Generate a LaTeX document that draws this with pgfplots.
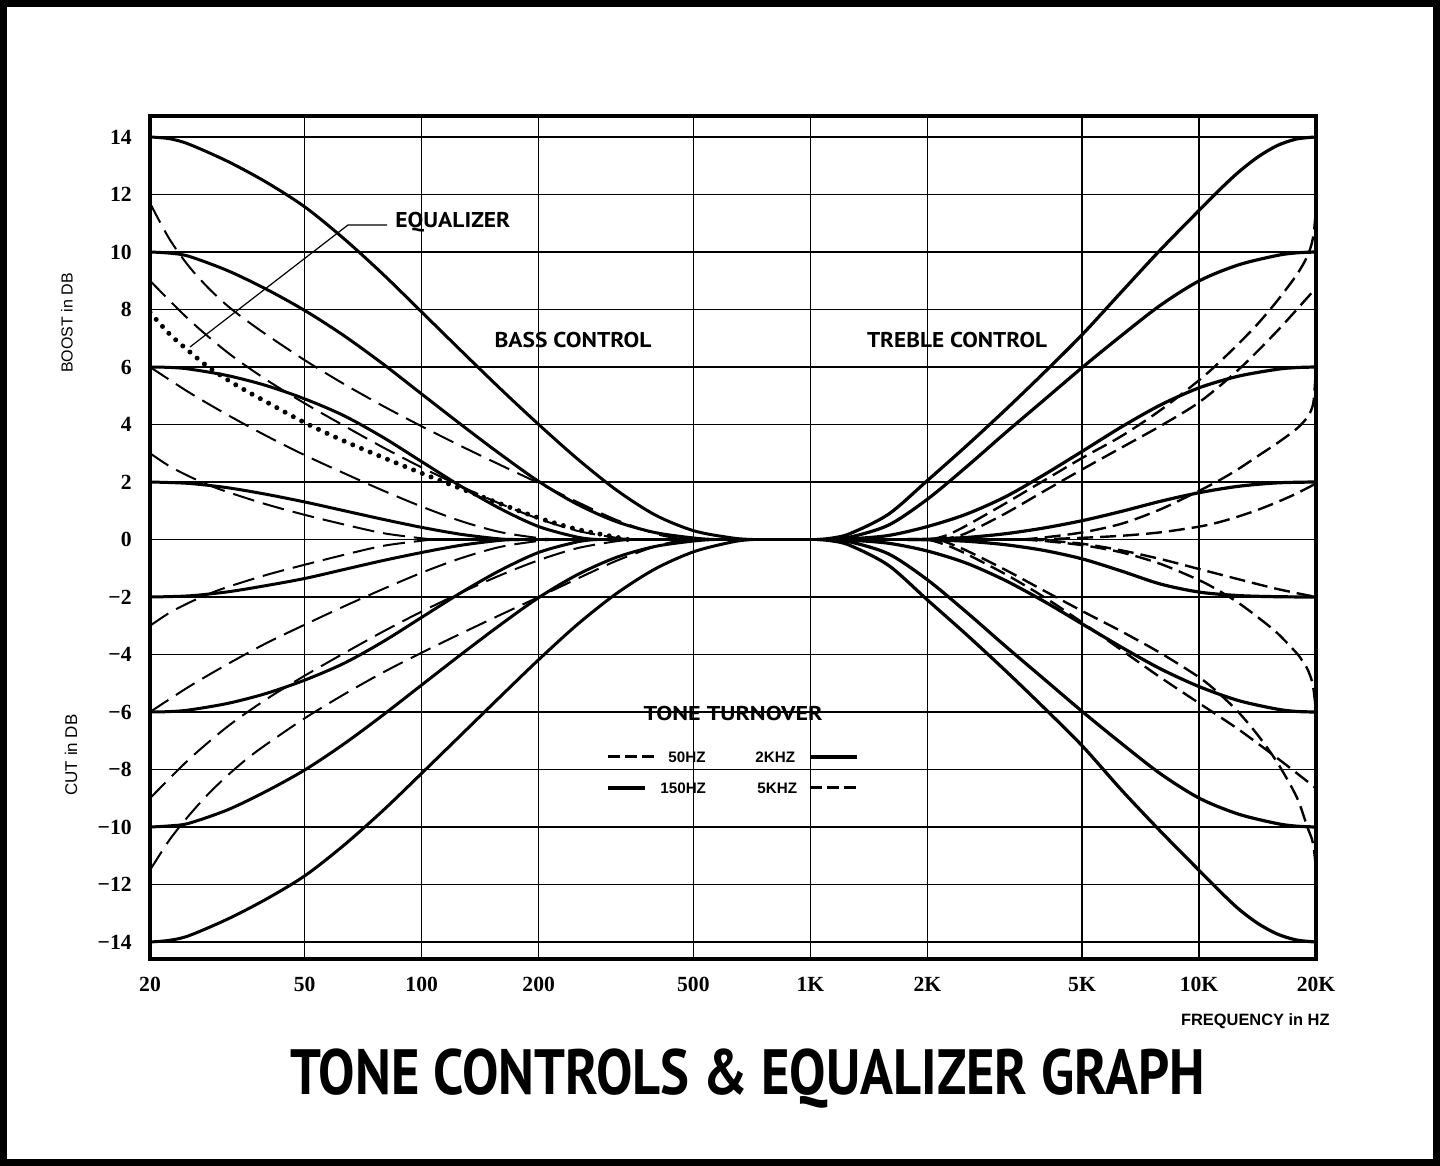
\documentclass[border=0pt]{standalone}
\usepackage{fontspec}
\setmainfont{Liberation Serif}
\newfontfamily\optima{PT Sans}
\newfontfamily\helv{Liberation Sans}
\usepackage{graphicx}
\usepackage{pgfplots}
\pgfplotsset{compat=1.18}
\pgfplotsset{
 sB/.style={black, line width=1.5pt, smooth, tension=0.5, no markers},
 dB/.style={black, line width=1pt, dash pattern=on 11pt off 4.5pt, smooth, tension=0.5, no markers},
 sT/.style={black, line width=1.6pt, smooth, tension=0.5, no markers},
 dT/.style={black, line width=1.2pt, dash pattern=on 8pt off 3.5pt, smooth, tension=0.5, no markers},
 eq/.style={black, line width=2.5pt, line cap=round, dash pattern=on 0pt off 4.7pt, smooth, tension=0.5, no markers},
}
\begin{document}
\begin{tikzpicture}
\useasboundingbox (0,0) rectangle (720pt,583pt);
\fill[white] (0,0) rectangle (720pt,583pt);
\draw[line width=3.5pt] (1.75pt,1.75pt) rectangle (718.25pt,581.25pt);
\begin{axis}[
 at={(75pt,103.5pt)}, anchor=south west, scale only axis,
 width=583pt, height=421.5pt,
 xmode=log, xmin=20, xmax=20000, ymin=-14.59, ymax=14.73,
 xtick={20,50,100,200,500,1000,2000,5000,10000,20000},
 xticklabels={20,50,100,200,500,1K,2K,5K,10K,20K},
 ytick={-14,-12,-10,-8,-6,-4,-2,0,2,4,6,8,10,12,14},
 yticklabels={−14,−12,−10,−8,−6,−4,−2,0,2,4,6,8,10,12,14},
 minor xtick={}, major tick length=0pt, minor tick length=0pt,
 grid=major, major grid style={black, line width=0.8pt},
 axis line style={black, line width=2pt},
 xticklabel style={font=\bfseries\fontsize{10.8}{12}\selectfont, inner sep=0pt, anchor=north, yshift=-9pt},
 yticklabel style={font=\bfseries\fontsize{10.8}{12}\selectfont, inner sep=0pt, anchor=east, xshift=-9pt},
]
% ---- bass, 150 Hz turnover (solid)
\addplot[sB] coordinates {(20,14) (22.44,13.94) (25.18,13.75) (31.70,13.15) (39.91,12.42) (50.24,11.55) (63.25,10.45) (79.62,9.22) (100.2,7.9) (126.2,6.57) (158.9,5.26) (200,4.0) (251.8,2.8) (317,1.72) (399.1,0.85) (502.4,0.3) (632.5,0.05) (709.6,0)};
\addplot[sB] coordinates {(20,-14) (22.44,-13.94) (25.18,-13.78) (31.70,-13.2) (39.91,-12.5) (50.24,-11.68) (63.25,-10.62) (79.62,-9.42) (100.2,-8.12) (126.2,-6.8) (158.9,-5.48) (200,-4.18) (251.8,-2.95) (317,-1.88) (399.1,-1.02) (502.4,-0.42) (632.5,-0.08) (709.6,0)};
\addplot[sB] coordinates {(20,10) (22.44,9.96) (25.18,9.85) (31.70,9.35) (39.91,8.7) (50.24,7.95) (63.25,7.08) (79.62,6.1) (100.2,5.05) (126.2,4.0) (158.9,2.98) (200,2.02) (251.8,1.22) (317,0.62) (399.1,0.24) (502.4,0.05) (563.7,0)};
\addplot[sB] coordinates {(20,-10) (22.44,-9.96) (25.18,-9.87) (31.70,-9.4) (39.91,-8.75) (50.24,-8.0) (63.25,-7.1) (79.62,-6.1) (100.2,-5.05) (126.2,-4.0) (158.9,-2.98) (200,-2.02) (251.8,-1.22) (317,-0.62) (399.1,-0.24) (502.4,-0.05) (563.7,0)};
\addplot[sB] coordinates {(20,6) (22.44,5.985) (25.18,5.93) (31.70,5.7) (39.91,5.35) (50.24,4.88) (63.25,4.3) (79.62,3.55) (100.2,2.7) (126.2,1.85) (158.9,1.08) (200,0.45) (251.8,0.08) (282.5,0)};
\addplot[sB] coordinates {(20,-6) (22.44,-5.985) (25.18,-5.93) (31.70,-5.7) (39.91,-5.35) (50.24,-4.88) (63.25,-4.3) (79.62,-3.55) (100.2,-2.7) (126.2,-1.85) (158.9,-1.08) (200,-0.45) (251.8,-0.08) (282.5,0)};
\addplot[sB] coordinates {(20,2) (25.18,1.95) (31.70,1.8) (39.91,1.57) (50.24,1.3) (63.25,1.0) (79.62,0.7) (100.2,0.42) (126.2,0.18) (158.9,0.02) (178.3,0)};
\addplot[sB] coordinates {(20,-2) (25.18,-1.96) (31.70,-1.82) (39.91,-1.6) (50.24,-1.35) (63.25,-1.04) (79.62,-0.73) (100.2,-0.45) (126.2,-0.2) (158.9,-0.03) (178.3,0)};
% ---- bass, 50 Hz turnover (dashed)
\addplot[dB] coordinates {(20,11.7) (22.44,10.45) (25.18,9.5) (28.25,8.75) (31.70,8.12) (35.57,7.6) (39.91,7.12) (50.24,6.22) (63.25,5.4) (79.62,4.64) (100.2,3.93) (126.2,3.25) (158.9,2.6) (200,1.96) (251.8,1.3) (317,0.68) (399.1,0.2) (463,0.02) (480,0)};
\addplot[dB] coordinates {(20,-11.5) (22.44,-10.45) (25.18,-9.6) (28.25,-8.85) (31.70,-8.2) (35.57,-7.62) (39.91,-7.12) (50.24,-6.2) (63.25,-5.38) (79.62,-4.62) (100.2,-3.93) (126.2,-3.27) (158.9,-2.63) (200,-2.0) (251.8,-1.36) (317,-0.74) (399.1,-0.24) (463,-0.03) (480,0)};
\addplot[dB] coordinates {(20,9.0) (25.18,7.65) (31.70,6.5) (39.91,5.55) (50.24,4.72) (63.25,3.95) (79.62,3.2) (100.2,2.5) (126.2,1.85) (158.9,1.25) (200,0.72) (251.8,0.3) (317,0.06) (355.7,0)};
\addplot[dB] coordinates {(20,-9.0) (25.18,-7.65) (31.70,-6.5) (39.91,-5.55) (50.24,-4.72) (63.25,-3.95) (79.62,-3.2) (100.2,-2.5) (126.2,-1.85) (158.9,-1.25) (200,-0.72) (251.8,-0.3) (317,-0.06) (355.7,0)};
\addplot[dB] coordinates {(20,6.0) (25.18,5.12) (31.70,4.33) (39.91,3.6) (50.24,2.92) (63.25,2.3) (79.62,1.7) (100.2,1.14) (126.2,0.64) (158.9,0.26) (200,0.05) (224.4,0)};
\addplot[dB] coordinates {(20,-6.0) (25.18,-5.12) (31.70,-4.33) (39.91,-3.6) (50.24,-2.95) (63.25,-2.32) (79.62,-1.72) (100.2,-1.15) (126.2,-0.65) (158.9,-0.26) (200,-0.05) (224.4,0)};
\addplot[dB] coordinates {(20,3.0) (22.44,2.55) (25.18,2.2) (28.25,1.9) (31.70,1.65) (39.91,1.22) (50.24,0.85) (63.25,0.52) (79.62,0.22) (100.2,0.04) (107.4,0)};
\addplot[dB] coordinates {(20,-3.0) (22.44,-2.55) (25.18,-2.2) (28.25,-1.9) (31.70,-1.65) (39.91,-1.23) (50.24,-0.87) (63.25,-0.53) (79.62,-0.22) (100.2,-0.04) (107.4,0)};
% ---- equalizer (dotted)
\addplot[eq] coordinates {(20,7.9) (22.44,7.15) (25.18,6.55) (28.25,6.0) (31.70,5.55) (35.57,5.15) (39.91,4.78) (50.24,4.05) (63.25,3.42) (79.62,2.85) (100.2,2.3) (126.2,1.77) (158.9,1.25) (200,0.75) (251.8,0.35) (317,0.08) (339.7,0)};
% ---- zero hinge
\addplot[black, line width=1.5pt] coordinates {(100,0) (4000,0)};
% ---- treble, 2 kHz turnover (solid)
\addplot[sT] coordinates {(1040,0) (1125,0.04) (1262,0.2) (1589,0.88) (2000,2.05) (2518,3.25) (3170,4.5) (3991,5.8) (5024,7.15) (6325,8.62) (7962,10.08) (10024,11.46) (11247,12.14) (12619,12.77) (14159,13.3) (15887,13.7) (17825,13.93) (20000,14)};
\addplot[sT] coordinates {(1040,0) (1125,-0.04) (1262,-0.2) (1589,-0.9) (2000,-2.1) (2518,-3.3) (3170,-4.55) (3991,-5.85) (5024,-7.2) (6325,-8.72) (7962,-10.15) (10024,-11.52) (11247,-12.2) (12619,-12.84) (14159,-13.35) (15887,-13.72) (17825,-13.93) (20000,-14)};
\addplot[sT] coordinates {(1100,0) (1262,0.08) (1589,0.5) (2000,1.4) (2518,2.52) (3170,3.7) (3991,4.85) (5024,6.0) (6325,7.1) (7962,8.15) (10024,9.0) (12619,9.55) (15887,9.88) (17825,9.97) (20000,10)};
\addplot[sT] coordinates {(1100,0) (1262,-0.08) (1589,-0.5) (2000,-1.4) (2518,-2.52) (3170,-3.7) (3991,-4.85) (5024,-6.0) (6325,-7.1) (7962,-8.15) (10024,-9.0) (12619,-9.55) (15887,-9.88) (17825,-9.97) (20000,-10)};
\addplot[sT] coordinates {(1120,0) (1262,0.02) (1589,0.14) (2000,0.45) (2518,0.88) (3170,1.48) (3991,2.25) (5024,3.08) (6325,3.92) (7962,4.68) (10024,5.28) (12619,5.68) (15887,5.92) (17825,5.98) (20000,6)};
\addplot[sT] coordinates {(1120,0) (1262,-0.02) (1589,-0.13) (2000,-0.4) (2518,-0.82) (3170,-1.42) (3991,-2.15) (5024,-2.95) (6325,-3.75) (7962,-4.5) (10024,-5.12) (12619,-5.6) (15887,-5.9) (17825,-5.98) (20000,-6)};
\addplot[sT] coordinates {(1780,0) (2000,0.01) (2518,0.07) (3170,0.2) (3991,0.4) (5024,0.66) (6325,0.98) (7962,1.33) (10024,1.63) (12619,1.85) (15887,1.97) (20000,2)};
\addplot[sT] coordinates {(1780,0) (2000,-0.01) (2518,-0.06) (3170,-0.18) (3991,-0.38) (5024,-0.68) (6325,-1.1) (7962,-1.55) (10024,-1.83) (12619,-1.95) (15887,-1.99) (20000,-2)};
% ---- treble, 5 kHz turnover (dashed)
\addplot[dT] coordinates {(2046,0) (2244,0.15) (2518,0.48) (3170,1.25) (3991,2.05) (5024,2.85) (6325,3.6) (7962,4.5) (10024,5.55) (11247,6.15) (12619,6.8) (14159,7.5) (15887,8.3) (17825,9.2) (19000,9.85) (19500,10.3) (19750,10.7) (20000,11.5)};
\addplot[dT] coordinates {(2130,0) (2244,0.03) (2518,0.22) (3170,0.9) (3991,1.68) (5024,2.45) (6325,3.2) (7962,3.95) (10024,4.78) (12619,5.9) (15887,7.25) (20000,8.75)};
\addplot[dT] coordinates {(3500,0) (3991,0.07) (5024,0.25) (6325,0.55) (7962,1.05) (10024,1.7) (11247,2.05) (12619,2.45) (14159,2.9) (15887,3.35) (17825,3.85) (19000,4.25) (19500,4.55) (19750,4.9) (20000,6.0)};
\addplot[dT] coordinates {(3700,0) (3991,0.01) (5024,0.06) (6325,0.13) (7962,0.25) (10024,0.45) (11247,0.6) (12619,0.8) (14159,1.03) (15887,1.3) (17825,1.6) (20000,1.95)};
\addplot[dT] coordinates {(3600,0) (3991,-0.03) (5024,-0.15) (6325,-0.38) (7962,-0.68) (10024,-1.03) (12619,-1.38) (15887,-1.72) (20000,-2.0)};
\addplot[dT] coordinates {(3500,0) (3991,-0.05) (5024,-0.2) (6325,-0.45) (7962,-0.85) (10024,-1.42) (11247,-1.78) (12619,-2.2) (14159,-2.7) (15887,-3.25) (17825,-3.95) (18400,-4.2) (19000,-4.5) (19500,-4.9) (19750,-5.3) (20000,-6.0)};
\addplot[dT] coordinates {(2000,0) (2050,-0.03) (2244,-0.2) (2518,-0.5) (3170,-1.2) (3991,-2.0) (5024,-2.9) (6325,-3.85) (7962,-4.8) (10024,-5.7) (12619,-6.6) (15887,-7.6) (20000,-8.65)};
\addplot[dT] coordinates {(2150,0) (2244,-0.1) (2518,-0.38) (3170,-1.05) (3991,-1.78) (5024,-2.5) (6325,-3.2) (7962,-3.95) (10024,-4.8) (11247,-5.35) (12619,-6.0) (14159,-6.8) (15887,-7.75) (17825,-8.95) (19000,-10.0) (19500,-10.4) (19750,-10.75) (20000,-11.5)};
\end{axis}
% ---- annotations
\draw[line width=0.6pt] (95pt,409.5pt) -- (174pt,470.5pt) -- (193.5pt,470.5pt);
\node[anchor=west, inner sep=0] at (197.5pt,472pt) {\resizebox{57.5pt}{\height}{\optima\bfseries\fontsize{10.7}{11}\selectfont EQUALIZER}};
\node[inner sep=0] at (286.5pt,413pt) {\resizebox{78.5pt}{\height}{\optima\bfseries\fontsize{10.7}{11}\selectfont BASS CONTROL}};
\node[inner sep=0] at (478.5pt,413pt) {\resizebox{90pt}{\height}{\optima\bfseries\fontsize{10.7}{11}\selectfont TREBLE CONTROL}};
\node[inner sep=0] at (366.5pt,226pt) {\resizebox{89.5pt}{\height}{\optima\bfseries\fontsize{10}{10}\selectfont TONE TURNOVER}};
% legend
\draw[line width=1.5pt, dash pattern=on 6pt off 2.5pt] (304pt,204.5pt) -- (327.5pt,204.5pt);
\node[anchor=west, inner sep=0] at (334pt,204.5pt) {\helv\bfseries\fontsize{7.6}{8}\selectfont 50HZ};
\node[anchor=west, inner sep=0] at (377.5pt,204.5pt) {\helv\bfseries\fontsize{7.6}{8}\selectfont 2KHZ};
\draw[line width=2.2pt] (405pt,204.5pt) -- (428.5pt,204.5pt);
\draw[line width=1.8pt] (304pt,189pt) -- (322.5pt,189pt);
\node[anchor=west, inner sep=0] at (330pt,189pt) {\helv\bfseries\fontsize{7.6}{8}\selectfont 150HZ};
\node[anchor=west, inner sep=0] at (378.5pt,189pt) {\helv\bfseries\fontsize{7.6}{8}\selectfont 5KHZ};
\draw[line width=1.5pt, dash pattern=on 6pt off 2.5pt] (405pt,189pt) -- (428.5pt,189pt);
% axis titles
\node[rotate=90, inner sep=0] at (33.5pt,421.5pt) {\helv\fontsize{8}{8}\selectfont BOOST in DB};
\node[rotate=90, inner sep=0] at (35.5pt,205.5pt) {\helv\fontsize{8.5}{8.5}\selectfont CUT in DB};
\node[anchor=east, inner sep=0] at (665pt,72.5pt) {\helv\bfseries\fontsize{8.2}{8.2}\selectfont FREQUENCY in HZ};
\node[anchor=base, inner sep=0] at (373.75pt,35.5pt) {\resizebox{457.5pt}{\height}{\optima\bfseries\fontsize{32}{32}\selectfont TONE CONTROLS \& EQUALIZER GRAPH}};
\end{tikzpicture}
\end{document}
